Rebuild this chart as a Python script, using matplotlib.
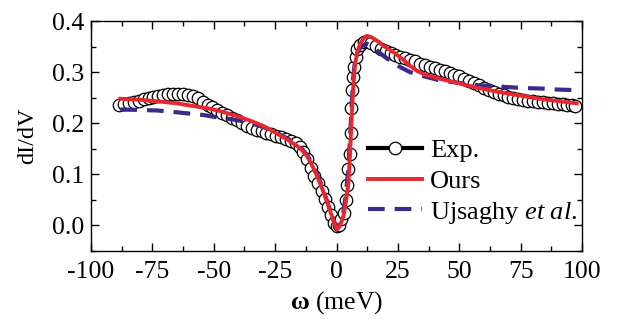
import numpy as np
import matplotlib
matplotlib.use("Agg")
import matplotlib.pyplot as plt
from matplotlib.ticker import MultipleLocator

plt.rcParams['font.family'] = ['Liberation Serif', 'DejaVu Serif']
plt.rcParams['mathtext.fontset'] = 'custom'
plt.rcParams['mathtext.rm'] = 'Liberation Serif'
plt.rcParams['mathtext.it'] = 'Liberation Serif:italic'
plt.rcParams['mathtext.bf'] = 'Liberation Serif:bold'
plt.rcParams['axes.unicode_minus'] = False

# experimental dI/dV
exp_w = np.array([-88.5, -86.5, -84.5, -82.5, -80.5, -78.5, -76.5, -74.5, -72.5, -70.5,
                  -68.5, -66.5, -64.5, -62.5, -60.5, -58.5, -56.5, -54.5, -52.5, -50.5,
                  -48.5, -46.5, -44.5, -42.5, -40.5, -38.5, -36.5, -34.5, -32.5, -30.5,
                  -28.5, -26.5, -24.5, -22.5, -20.5, -18.5, -16.5, -15.0, -13.5, -12.0,
                  -10.5, -9.0, -7.5, -6.0, -4.8, -3.5, -2.2, -1.0, 0.0, 1.0,
                  2.0, 3.0, 3.8, 4.3, 4.8, 5.3, 5.7, 6.0, 6.4, 6.8,
                  7.2, 7.8, 8.5, 9.6, 11.0, 12.5, 14.0, 16.0, 18.0, 20.0,
                  22.0, 24.0, 26.0, 28.0, 30.0, 32.0, 34.0, 36.0, 38.0, 40.0,
                  42.0, 44.0, 46.0, 48.0, 50.0, 52.0, 54.0, 56.0, 58.0, 60.0,
                  62.0, 64.0, 66.0, 68.0, 70.0, 72.0, 74.0, 76.0, 78.0, 80.0,
                  82.0, 84.0, 86.0, 88.0, 90.0, 92.0, 94.0, 96.0, 97.0])
exp_g = np.array([0.235, 0.238, 0.240, 0.242, 0.244, 0.247, 0.250, 0.252, 0.254, 0.256,
                  0.257, 0.257, 0.257, 0.257, 0.256, 0.254, 0.249, 0.242, 0.236, 0.231,
                  0.226, 0.221, 0.216, 0.211, 0.206, 0.201, 0.195, 0.191, 0.187, 0.184,
                  0.181, 0.178, 0.176, 0.173, 0.170, 0.166, 0.161, 0.154, 0.143, 0.130,
                  0.113, 0.097, 0.083, 0.068, 0.052, 0.036, 0.020, 0.005, -0.002, 0.000,
                  0.012, 0.025, 0.050, 0.080, 0.110, 0.140, 0.180, 0.229, 0.265, 0.290,
                  0.310, 0.330, 0.345, 0.354, 0.360, 0.361, 0.357, 0.351, 0.346, 0.341,
                  0.337, 0.333, 0.330, 0.327, 0.324, 0.321, 0.317, 0.314, 0.311, 0.308,
                  0.305, 0.302, 0.298, 0.295, 0.292, 0.287, 0.282, 0.278, 0.274, 0.270,
                  0.266, 0.262, 0.258, 0.255, 0.252, 0.250, 0.248, 0.246, 0.244, 0.243,
                  0.242, 0.241, 0.240, 0.239, 0.238, 0.237, 0.236, 0.235, 0.234])

# our fit
ours_w = [-88, -80, -73, -65, -60, -52, -46, -40, -35, -30, -25, -20, -15, -12, -10,
          -8, -6, -4, -2, -0.5, 0.3, 1.5, 2.8, 3.8, 4.8, 5.5, 6.2, 6.8, 7.5, 8.5,
          9.6, 11, 12.3, 14, 16.4, 19, 23, 27, 30, 33, 36.7, 43, 50, 57, 64,
          70, 77.5, 84, 91, 97.8]
ours_g = [0.248, 0.246, 0.243, 0.239, 0.235, 0.229, 0.222, 0.213, 0.205, 0.195, 0.182,
          0.168, 0.152, 0.136, 0.118, 0.098, 0.074, 0.048, 0.020, 0.000, -0.008, 0.000,
          0.018, 0.045, 0.080, 0.140, 0.216, 0.270, 0.314, 0.340, 0.355, 0.366, 0.371,
          0.369, 0.362, 0.352, 0.340, 0.325, 0.312, 0.302, 0.294, 0.286, 0.278, 0.270,
          0.263, 0.258, 0.252, 0.247, 0.243, 0.239]

# Ujsaghy et al.
uj_w = [-88, -80, -73, -66, -60, -54, -49, -43, -37, -30, -25, -20, -15, -12, -10,
        -8, -6, -4, -2, -0.5, 0.3, 1.5, 2.8, 3.8, 4.8, 5.5, 6.2, 6.8, 7.5, 8.5,
        10, 12.3, 15, 17.5, 20.5, 25.9, 30, 34, 42, 50, 56, 63, 69, 76, 83, 90, 96.5]
uj_g = [0.227, 0.226, 0.225, 0.222, 0.219, 0.216, 0.212, 0.208, 0.203, 0.193, 0.183,
        0.170, 0.155, 0.138, 0.122, 0.101, 0.078, 0.050, 0.020, 0.000, -0.006, 0.003,
        0.025, 0.060, 0.110, 0.170, 0.240, 0.290, 0.320, 0.338, 0.350, 0.356, 0.350,
        0.338, 0.327, 0.310, 0.300, 0.294, 0.284, 0.279, 0.275, 0.273, 0.271, 0.269,
        0.268, 0.266, 0.265]

fig = plt.figure(figsize=(6.18, 3.25), dpi=100)
ax = fig.add_axes([0.147, 0.228, 0.795, 0.707])

ax.plot(exp_w, exp_g, '-', color='black', lw=1.2, marker='o', ms=9,
        mfc='white', mec='black', mew=0.9, label='Exp.', zorder=2)
ax.plot(uj_w, uj_g, '--', color='#3b2a8c', lw=3, dashes=(4, 2.4),
        label=r'Ujsaghy $\it{et\ al.}$', zorder=3)
ax.plot(ours_w, ours_g, '-', color='#e8272f', lw=2.8, label='Ours', zorder=4)

ax.set_xlim(-100, 100)
ax.set_ylim(-0.05, 0.4)
ax.xaxis.set_major_locator(MultipleLocator(25))
ax.xaxis.set_minor_locator(MultipleLocator(12.5))
ax.yaxis.set_major_locator(MultipleLocator(0.1))
ax.yaxis.set_minor_locator(MultipleLocator(0.05))
ax.yaxis.set_major_formatter(plt.FormatStrFormatter('%.1f'))
ax.tick_params(which='both', direction='in', top=True, right=True, labelsize=18.5, width=1)
ax.tick_params(which='major', length=6)
ax.tick_params(axis='x', which='major', pad=7)
ax.tick_params(axis='y', which='major', pad=5)
ax.tick_params(which='minor', length=3.5)
for s in ax.spines.values():
    s.set_linewidth(1)

ax.set_xlabel(r'$\mathbf{\omega}$ (meV)', fontsize=18.5, labelpad=5)
ax.set_ylabel('dI/dV', fontsize=17.5, labelpad=10)

h, l = ax.get_legend_handles_labels()
order = [0, 2, 1]
leg = ax.legend([h[i] for i in order], [l[i] for i in order], loc='lower left',
                bbox_to_anchor=(0.564, 0.11), frameon=False, fontsize=19,
                borderpad=0, borderaxespad=0,
                handlelength=2.05, handletextpad=0.3, labelspacing=0.26)
leg.legend_handles[0].set_linewidth(3)

fig.savefig('out.png', dpi=100)
